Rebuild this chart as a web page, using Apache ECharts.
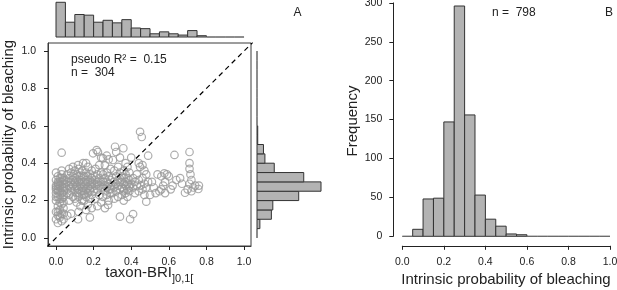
<!DOCTYPE html>
<html>
<head>
<meta charset="utf-8">
<script src="https://cdn.jsdelivr.net/npm/echarts@6/dist/echarts.min.js"></script>
<style>
  html, body { margin: 0; padding: 0; background: #fff; }
  #chart { width: 617px; height: 290px; }
</style>
</head>
<body>
<div id="chart"></div>
<script>
// bin edges shared by all three histograms (width 0.05)
var breaks = [0, 0.05, 0.1, 0.15, 0.2, 0.25, 0.3, 0.35, 0.4, 0.45, 0.5,
              0.55, 0.6, 0.65, 0.7, 0.75, 0.8, 0.85, 0.9, 0.95, 1.0];

// panel A, top margin: taxon-BRI counts
var briCounts = [54, 23, 35, 34, 23, 26, 22, 27, 14, 13, 5, 8, 5, 3, 10, 2, 0, 0, 0, 0];
// panel A, right margin: intrinsic probability counts
var probCounts = [0, 4, 20, 22, 58, 89, 65, 24, 11, 9, 1, 1, 0, 0, 0, 0, 0, 0, 0, 0];
// panel B: all species
var allCounts = [0, 9, 48, 49, 147, 296, 156, 53, 22, 13, 3, 2, 0, 0, 0, 0, 0, 0, 0, 0];

var unitTicks = [0, 0.2, 0.4, 0.6, 0.8, 1.0];
var diagonal = [[-0.05, -0.05], [1.05, 1.05]];

// [taxon-BRI, intrinsic probability]
var taxonPoints = [
  [0.01,0.08],[0.03,0.09],[0.0,0.10],[0.02,0.11],[0.04,0.10],[0.01,0.12],[0.03,0.13],[0.0,0.14],[0.02,0.15],[0.04,0.16],
  [0.01,0.17],[0.0,0.20],[0.03,0.21],[0.01,0.22],[0.04,0.22],[0.0,0.24],[0.02,0.25],[0.04,0.25],[0.01,0.26],[0.03,0.27],
  [0.0,0.28],[0.02,0.28],[0.04,0.29],[0.01,0.30],[0.03,0.30],[0.0,0.31],[0.02,0.32],[0.04,0.32],[0.01,0.33],[0.03,0.34],
  [0.0,0.35],[0.03,0.456],[0.02,0.19],[0.04,0.19],[0.0,0.27],[0.01,0.29],[0.03,0.24],[0.02,0.23],[0.04,0.27],[0.0,0.22],
  [0.01,0.25],[0.02,0.30],[0.04,0.31],[0.02,0.27],[0.03,0.32],[0.0,0.26],[0.01,0.28],[0.04,0.23],[0.02,0.21],[0.03,0.18],
  [0.01,0.14],[0.04,0.13],[0.02,0.12],[0.03,0.36],
  [0.06,0.12],[0.08,0.13],[0.07,0.20],[0.09,0.22],[0.06,0.24],[0.08,0.25],[0.05,0.27],[0.07,0.28],[0.09,0.28],[0.06,0.30],
  [0.08,0.30],[0.05,0.31],[0.07,0.32],[0.09,0.33],[0.06,0.34],[0.08,0.35],[0.07,0.37],[0.09,0.38],[0.06,0.26],[0.08,0.27],
  [0.05,0.29],[0.09,0.31],[0.07,0.23],
  [0.117,0.10],[0.12,0.14],[0.13,0.17],[0.11,0.19],[0.14,0.20],[0.10,0.21],[0.12,0.22],[0.14,0.23],[0.11,0.24],[0.13,0.25],
  [0.10,0.26],[0.12,0.26],[0.14,0.27],[0.11,0.28],[0.13,0.28],[0.10,0.29],[0.12,0.30],[0.14,0.30],[0.11,0.31],[0.13,0.31],
  [0.10,0.32],[0.12,0.33],[0.14,0.33],[0.11,0.34],[0.13,0.35],[0.10,0.36],[0.12,0.37],[0.117,0.39],[0.144,0.40],[0.14,0.25],
  [0.11,0.27],[0.13,0.29],[0.12,0.24],[0.10,0.30],[0.14,0.36],
  [0.18,0.11],[0.16,0.15],[0.19,0.16],[0.17,0.18],[0.15,0.20],[0.18,0.21],[0.16,0.22],[0.19,0.23],[0.17,0.24],[0.15,0.25],
  [0.18,0.25],[0.16,0.26],[0.19,0.27],[0.17,0.27],[0.15,0.28],[0.18,0.28],[0.16,0.29],[0.19,0.29],[0.17,0.30],[0.15,0.30],
  [0.18,0.31],[0.16,0.31],[0.19,0.32],[0.17,0.33],[0.15,0.33],[0.18,0.34],[0.16,0.35],[0.19,0.36],[0.17,0.38],[0.197,0.453],
  [0.16,0.40],[0.18,0.26],[0.15,0.23],[0.19,0.30],
  [0.22,0.17],[0.24,0.19],[0.21,0.21],[0.23,0.23],[0.20,0.25],[0.22,0.26],[0.24,0.27],[0.21,0.28],[0.23,0.28],[0.20,0.29],
  [0.22,0.30],[0.24,0.30],[0.21,0.31],[0.23,0.32],[0.20,0.33],[0.22,0.34],[0.24,0.35],[0.21,0.37],[0.23,0.39],[0.223,0.46],
  [0.216,0.47],[0.24,0.43],[0.22,0.29],
  [0.277,0.177],[0.26,0.16],[0.28,0.20],[0.25,0.22],[0.27,0.23],[0.29,0.24],[0.26,0.25],[0.28,0.26],[0.25,0.27],[0.27,0.27],
  [0.29,0.28],[0.26,0.28],[0.28,0.29],[0.25,0.30],[0.27,0.30],[0.29,0.31],[0.26,0.32],[0.28,0.33],[0.25,0.34],[0.27,0.35],
  [0.29,0.37],[0.26,0.39],[0.25,0.426],[0.28,0.42],[0.27,0.44],[0.29,0.26],
  [0.34,0.114],[0.31,0.21],[0.33,0.22],[0.30,0.24],[0.32,0.25],[0.34,0.26],[0.31,0.27],[0.33,0.28],[0.30,0.28],[0.32,0.29],
  [0.34,0.30],[0.31,0.30],[0.33,0.31],[0.30,0.32],[0.32,0.33],[0.34,0.35],[0.31,0.36],[0.33,0.38],[0.303,0.417],[0.314,0.488],
  [0.32,0.46],[0.34,0.43],
  [0.394,0.10],[0.36,0.20],[0.38,0.22],[0.35,0.23],[0.37,0.24],[0.39,0.25],[0.36,0.26],[0.38,0.26],[0.35,0.27],[0.37,0.28],
  [0.39,0.28],[0.36,0.29],[0.38,0.29],[0.35,0.30],[0.37,0.30],[0.39,0.31],[0.36,0.32],[0.38,0.32],[0.35,0.33],[0.37,0.34],
  [0.39,0.35],[0.36,0.36],[0.38,0.38],[0.358,0.48],[0.37,0.40],[0.39,0.27],[0.36,0.25],
  [0.41,0.128],[0.42,0.24],[0.44,0.25],[0.41,0.27],[0.43,0.28],[0.40,0.29],[0.42,0.30],[0.44,0.31],[0.41,0.32],[0.43,0.34],
  [0.447,0.38],[0.40,0.43],[0.44,0.40],[0.447,0.568],
  [0.456,0.54],[0.46,0.39],[0.48,0.194],[0.49,0.44],[0.47,0.23],[0.46,0.26],[0.48,0.27],[0.45,0.28],[0.47,0.29],[0.49,0.30],
  [0.46,0.32],[0.48,0.34],[0.47,0.36],
  [0.50,0.23],[0.53,0.24],[0.52,0.27],[0.51,0.30],[0.54,0.34],
  [0.58,0.24],[0.56,0.26],[0.576,0.346],[0.59,0.34],[0.57,0.28],[0.55,0.25],[0.58,0.30],[0.56,0.33],
  [0.63,0.444],[0.61,0.26],[0.62,0.28],[0.64,0.31],[0.60,0.33],
  [0.686,0.242],[0.66,0.32],[0.67,0.29],
  [0.71,0.46],[0.71,0.40],[0.71,0.37],[0.715,0.34],[0.72,0.31],[0.70,0.26],[0.73,0.27],[0.74,0.28],[0.72,0.25],[0.71,0.29],
  [0.757,0.262],[0.76,0.28]
];

var FONT = '"Liberation Sans", Arial, Helvetica, sans-serif';
var INK = '#222';

function binData(counts) {
  return counts.map(function (c, i) { return [breaks[i], breaks[i + 1], c]; });
}

// vertical bars: x = bin, y = count
function histBars(counts, idx) {
  return {
    type: 'custom', xAxisIndex: idx, yAxisIndex: idx, data: binData(counts),
    renderItem: function (params, api) {
      var top = api.coord([api.value(0), api.value(2)]);
      var base = api.coord([api.value(1), 0]);
      return {
        type: 'rect',
        shape: { x: top[0], y: top[1], width: base[0] - top[0], height: base[1] - top[1] },
        style: { fill: '#b3b3b3', stroke: api.value(2) ? '#333' : '#666', lineWidth: 1 }
      };
    }
  };
}

// horizontal bars: y = bin, x = count
function sideBars(counts, idx) {
  return {
    type: 'custom', xAxisIndex: idx, yAxisIndex: idx, data: binData(counts),
    renderItem: function (params, api) {
      var tip = api.coord([api.value(2), api.value(1)]);
      var base = api.coord([0, api.value(0)]);
      return {
        type: 'rect',
        shape: { x: base[0], y: tip[1], width: tip[0] - base[0], height: base[1] - tip[1] },
        style: { fill: '#b3b3b3', stroke: api.value(2) ? '#333' : '#666', lineWidth: 1 }
      };
    }
  };
}

function hiddenAxis(extra) {
  var a = { type: 'value', show: false, splitLine: { show: false } };
  for (var k in extra) a[k] = extra[k];
  return a;
}

var tickFmt = function (v) { return Number(v).toFixed(1); };
var tickStyle = { color: '#222', width: 1 };

var chart = echarts.init(document.getElementById('chart'), null, { renderer: 'canvas' });

var option = {
  animation: false,
  backgroundColor: '#fff',
  textStyle: { fontFamily: FONT },
  grid: [
    { left: 48, top: 1, width: 203, height: 36, outerBoundsMode: 'none' },
    { left: 48, top: 43, width: 203, height: 203, show: true, borderColor: '#3a3a3a', borderWidth: 1, outerBoundsMode: 'none' },
    { left: 257, top: 43, width: 64, height: 203, outerBoundsMode: 'none' },
    { left: 402.3, top: 2.9, width: 207.7, height: 233.4, outerBoundsMode: 'none' }
  ],
  xAxis: [
    hiddenAxis({ gridIndex: 0, min: -0.0426, max: 1.037 }),
    {
      type: 'value', gridIndex: 1, min: -0.0426, max: 1.037,
      splitLine: { show: false },
      axisLine: { show: true, onZero: false, lineStyle: { color: '#3a3a3a' } },
      axisTick: { show: true, length: 4, customValues: unitTicks, lineStyle: tickStyle },
      axisLabel: { customValues: unitTicks, formatter: tickFmt, margin: 11, color: INK, fontSize: 10.5, fontFamily: FONT }
    },
    hiddenAxis({ gridIndex: 2, min: 0, max: 89 }),
    {
      type: 'value', gridIndex: 3, min: 0, max: 1, interval: 0.2, offset: 9.5,
      splitLine: { show: false },
      axisLine: { show: true, onZero: false, lineStyle: { color: '#222' } },
      axisTick: { show: true, length: 4, lineStyle: tickStyle },
      axisLabel: { formatter: tickFmt, margin: 11, color: INK, fontSize: 10.5, fontFamily: FONT, showMinLabel: true, showMaxLabel: true }
    }
  ],
  yAxis: [
    hiddenAxis({ gridIndex: 0, min: 0, max: 56 }),
    {
      type: 'value', gridIndex: 1, min: -0.043, max: 1.043,
      splitLine: { show: false },
      axisLine: { show: true, onZero: false, lineStyle: { color: '#3a3a3a' } },
      axisTick: { show: true, length: 4, customValues: unitTicks, lineStyle: tickStyle },
      axisLabel: { customValues: unitTicks, formatter: tickFmt, margin: 12, color: INK, fontSize: 10.5, fontFamily: FONT }
    },
    hiddenAxis({ gridIndex: 2, min: -0.043, max: 1.043 }),
    {
      type: 'value', gridIndex: 3, min: 0, max: 300, interval: 50, offset: 9,
      splitLine: { show: false },
      axisLine: { show: true, onZero: false, lineStyle: { color: '#222' } },
      axisTick: { show: true, length: 4, lineStyle: tickStyle },
      axisLabel: { margin: 11, color: INK, fontSize: 10.5, fontFamily: FONT }
    }
  ],
  series: [
    histBars(briCounts, 0),
    {
      type: 'scatter', xAxisIndex: 1, yAxisIndex: 1, data: taxonPoints,
      symbol: 'circle', symbolSize: 7.5,
      itemStyle: { color: 'rgba(0,0,0,0)', borderColor: '#999', borderWidth: 1.2 }
    },
    {
      type: 'line', xAxisIndex: 1, yAxisIndex: 1, data: diagonal, symbol: 'none',
      clip: true, silent: true, z: 3,
      lineStyle: { color: '#000', width: 1.2, type: [5, 4] }
    },
    sideBars(probCounts, 2),
    histBars(allCounts, 3)
  ],
  graphic: [
    { type: 'text', x: 9, y: 144.5, rotation: Math.PI / 2,
      style: { text: 'Intrinsic probability of bleaching', fill: INK, font: '15px ' + FONT, textAlign: 'center', textVerticalAlign: 'middle' } },
    { type: 'text', x: 172, y: 273,
      style: { text: 'taxon-BRI', fill: INK, font: '15px ' + FONT, textAlign: 'right', textVerticalAlign: 'middle' } },
    { type: 'text', x: 172, y: 279,
      style: { text: ']0,1[', fill: INK, font: '11px ' + FONT, textAlign: 'left', textVerticalAlign: 'middle' } },
    { type: 'text', x: 71, y: 60,
      style: { text: 'pseudo R\u00b2 =  0.15', fill: INK, font: '12px ' + FONT, textAlign: 'left', textVerticalAlign: 'middle' } },
    { type: 'text', x: 71, y: 73,
      style: { text: 'n =  304', fill: INK, font: '12px ' + FONT, textAlign: 'left', textVerticalAlign: 'middle' } },
    { type: 'text', x: 297.5, y: 13,
      style: { text: 'A', fill: INK, font: '12px ' + FONT, textAlign: 'center', textVerticalAlign: 'middle' } },
    { type: 'text', x: 352.5, y: 121, rotation: Math.PI / 2,
      style: { text: 'Frequency', fill: INK, font: '15px ' + FONT, textAlign: 'center', textVerticalAlign: 'middle' } },
    { type: 'text', x: 506, y: 280,
      style: { text: 'Intrinsic probability of bleaching', fill: INK, font: '15px ' + FONT, textAlign: 'center', textVerticalAlign: 'middle' } },
    { type: 'text', x: 492, y: 13,
      style: { text: 'n =  798', fill: INK, font: '12px ' + FONT, textAlign: 'left', textVerticalAlign: 'middle' } },
    { type: 'text', x: 609, y: 13,
      style: { text: 'B', fill: INK, font: '12px ' + FONT, textAlign: 'center', textVerticalAlign: 'middle' } }
  ]
};

chart.setOption(option);
</script>
</body>
</html>
